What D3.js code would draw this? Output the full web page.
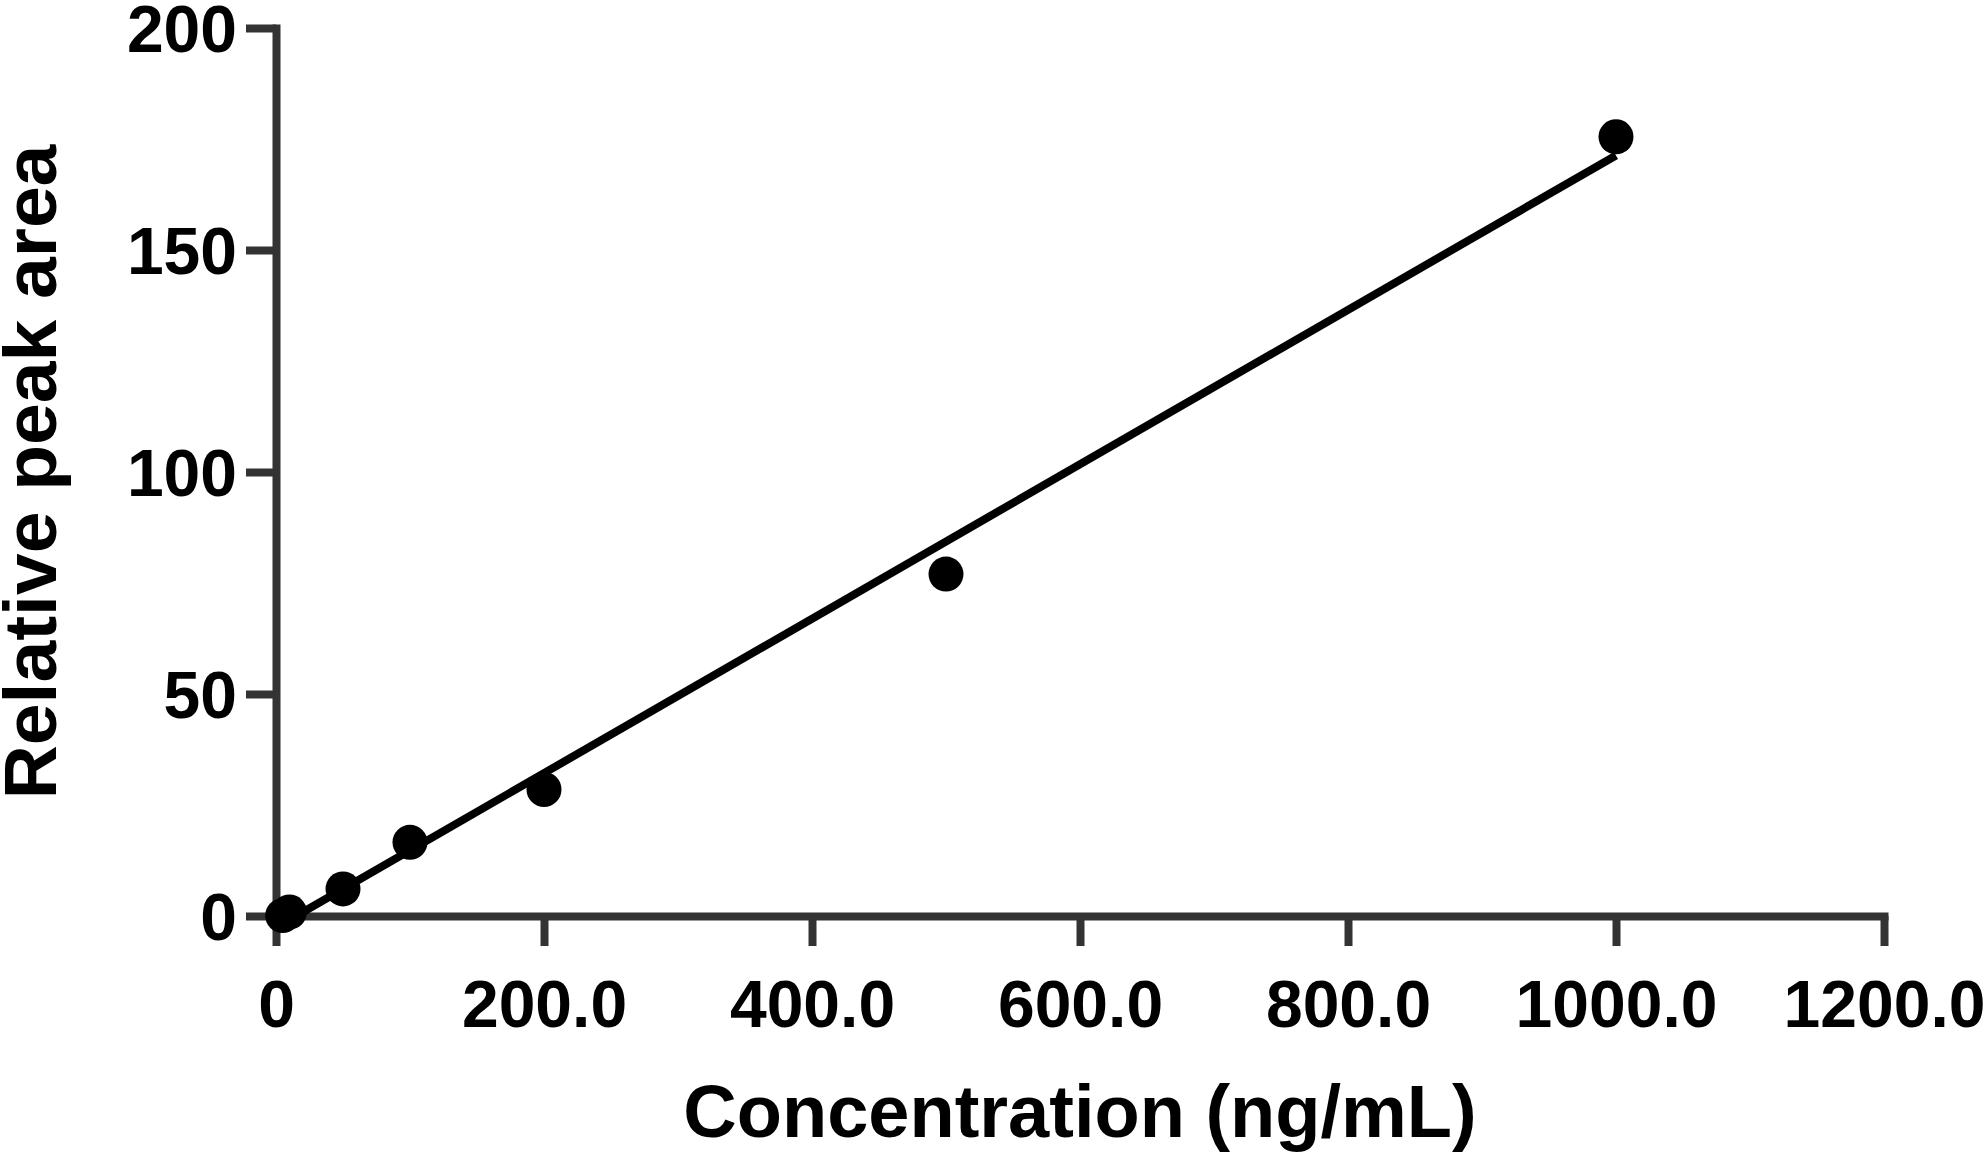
<!DOCTYPE html>
<html><head><meta charset="utf-8">
<script src="https://cdn.jsdelivr.net/npm/d3@7"></script>
<style>
html,body{margin:0;padding:0;background:#fff;}
svg{display:block;}
text{font-family:"Liberation Sans",Arial,Helvetica,sans-serif;font-weight:bold;}
</style></head>
<body>
<svg id="chart" width="1983" height="1155"></svg>
<script>
// Data
const concentration = [5, 10, 50, 100, 200, 500, 1000];
const peakArea      = [0.1, 0.9, 6.1, 16.6, 28.5, 77.0, 175.5];
// Fitted line end points
const fitX = [15, 1000];
const fitY = [0, 171.3];
const xTicks = [0, 200, 400, 600, 800, 1000, 1200];
const yTicks = [0, 50, 100, 150, 200];
const xTitle = "Concentration (ng/mL)";
const yTitle = "Relative peak area";

const W = 1983, H = 1155;
const m = {left: 276, right: W - 1884, top: 28, bottom: H - 916};
const svg = d3.select("#chart");

const x = d3.scaleLinear().domain([0, 1200]).range([m.left, W - m.right]);
const y = d3.scaleLinear().domain([0, 200]).range([H - m.bottom, m.top]);

const axisColor = "#333333";

const gx = svg.append("g").attr("transform", `translate(0,${y(0)})`)
  .call(d3.axisBottom(x).tickValues(xTicks).tickSize(30).tickSizeOuter(0).tickPadding(34)
    .tickFormat(d => d === 0 ? "0" : d3.format(".1f")(d)));
const gy = svg.append("g").attr("transform", `translate(${x(0)},0)`)
  .call(d3.axisLeft(y).tickValues(yTicks).tickSize(30).tickSizeOuter(0).tickPadding(9)
    .tickFormat(d3.format("d")));

[gx, gy].forEach(g => {
  g.select(".domain").attr("stroke", axisColor).attr("stroke-width", 8).attr("stroke-linecap", "square");
  g.selectAll(".tick line").attr("stroke", axisColor).attr("stroke-width", 8).attr("stroke-linecap", "butt");
  g.selectAll(".tick text").attr("fill", "#000").style("font-size", "66px")
    .style("font-family", '"Liberation Sans",Arial,sans-serif').style("font-weight", "bold");
});
gy.selectAll(".tick text").attr("dy", "0.36em");

// fitted line
const fit = fitX.map((v, i) => ({x: v, y: fitY[i]}));
svg.append("path").datum(fit)
  .attr("fill", "none").attr("stroke", "#000").attr("stroke-width", 8)
  .attr("d", d3.line().x(d => x(d.x)).y(d => y(d.y)));

// points
svg.append("g").selectAll("circle")
  .data(concentration.map((c, i) => ({x: c, y: peakArea[i]})))
  .join("circle")
  .attr("cx", d => x(d.x)).attr("cy", d => y(d.y)).attr("r", 17.5).attr("fill", "#000");

// titles
svg.append("text").attr("x", (x(0) + x(1200)) / 2).attr("y", 1137)
  .attr("text-anchor", "middle").style("font-size", "74px").attr("fill", "#000").text(xTitle);
svg.append("text")
  .attr("transform", `translate(56,${(y(0) + y(200)) / 2}) rotate(-90)`)
  .attr("text-anchor", "middle").style("font-size", "75px").attr("fill", "#000").text(yTitle);
</script>
</body></html>
